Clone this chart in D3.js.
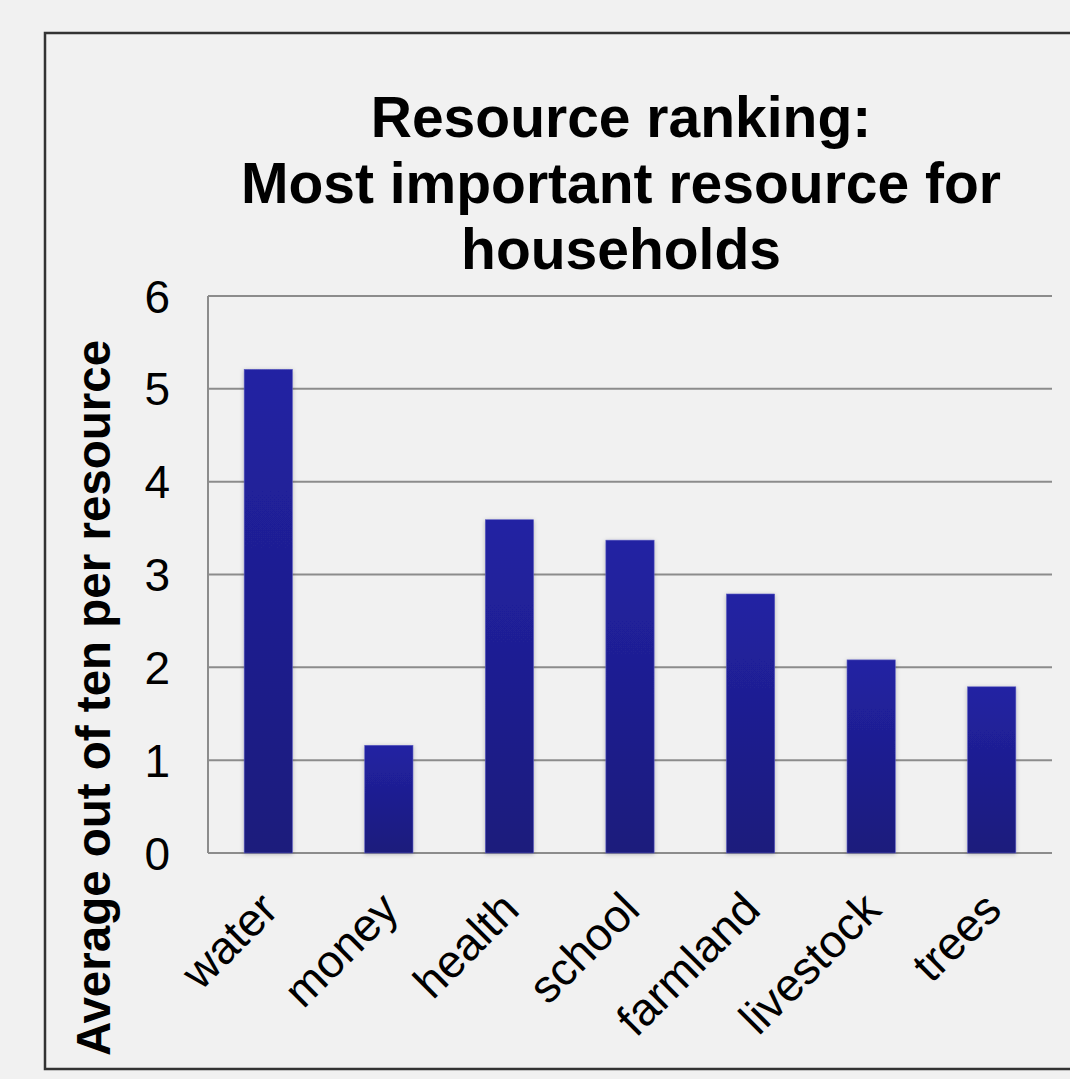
<!DOCTYPE html>
<html>
<head>
<meta charset="utf-8">
<script src="https://cdn.jsdelivr.net/npm/d3@7"></script>
<style>
	body { margin: 0; background: #f1f1f1; }
	svg { display: block; font-family: "Liberation Sans", Arial, sans-serif; }
</style>
</head>
<body>
<svg id="chart" width="1070" height="1079"></svg>
<script>
// data
let resources = ["water", "money", "health", "school", "farmland", "livestock", "trees"];
let averages = [5.21, 1.16, 3.59, 3.37, 2.79, 2.08, 1.79];
let yTicks = [0, 1, 2, 3, 4, 5, 6];
let titleLines = ["Resource ranking:", "Most important resource for", "households"];
let yTitle = "Average out of ten per resource";

let svg = d3.select("#chart");

// outer frame
svg.append("rect")
	.attr("x", 45).attr("y", 33)
	.attr("width", 1100).attr("height", 1036)
	.attr("fill", "#f1f1f1")
	.attr("stroke", "#333")
	.attr("stroke-width", 2.5);

let plotLeft = 208, plotRight = 1052, plotTop = 296, plotBottom = 853;

let xScale = d3.scaleBand()
	.domain(resources)
	.range([plotLeft, plotRight])
	.paddingInner(0.6)
	.paddingOuter(0.3);

let yScale = d3.scaleLinear()
	.domain([0, 6])
	.range([plotBottom, plotTop]);

// gradient for the bars
let defs = svg.append("defs");
let grad = defs.append("linearGradient")
	.attr("id", "barGrad")
	.attr("x1", 0).attr("y1", 0).attr("x2", 0).attr("y2", 1);
grad.append("stop").attr("offset", "0%").attr("stop-color", "#2222a3");
grad.append("stop").attr("offset", "100%").attr("stop-color", "#1a1a7c");

let shadow = defs.append("filter").attr("id", "shadow")
	.attr("x", "-20%").attr("y", "-5%").attr("width", "140%").attr("height", "110%");
shadow.append("feDropShadow")
	.attr("dx", 0).attr("dy", 1).attr("stdDeviation", 2)
	.attr("flood-color", "#000").attr("flood-opacity", 0.25);

// gridlines
svg.append("g")
	.selectAll("line")
	.data(yTicks)
	.join("line")
	.attr("x1", plotLeft).attr("x2", plotRight)
	.attr("y1", d => yScale(d)).attr("y2", d => yScale(d))
	.attr("stroke", "#8c8c8c")
	.attr("stroke-width", 2);

// left axis line
svg.append("line")
	.attr("x1", plotLeft).attr("x2", plotLeft)
	.attr("y1", plotTop).attr("y2", plotBottom)
	.attr("stroke", "#8c8c8c")
	.attr("stroke-width", 2);

// y tick labels
svg.append("g")
	.selectAll("text")
	.data(yTicks)
	.join("text")
	.attr("x", 170)
	.attr("y", d => yScale(d))
	.attr("dy", "0.36em")
	.attr("text-anchor", "end")
	.attr("font-size", 46)
	.attr("fill", "#000")
	.text(d => d);

// bars
svg.append("g")
	.selectAll("rect")
	.data(averages)
	.join("rect")
	.attr("x", (d, i) => xScale(resources[i]))
	.attr("y", d => yScale(d))
	.attr("width", xScale.bandwidth())
	.attr("height", d => plotBottom - yScale(d))
	.attr("fill", "url(#barGrad)")
	.attr("stroke", "#5a5ac0")
	.attr("stroke-width", 0.6)
	.attr("filter", "url(#shadow)");

// x labels, rotated
svg.append("g")
	.selectAll("text")
	.data(resources)
	.join("text")
	.attr("transform", d => "translate(" + (xScale(d) + xScale.bandwidth() / 2 + 12) + "," + 912 + ") rotate(-45)")
	.attr("text-anchor", "end")
	.attr("font-size", 46)
	.attr("fill", "#000")
	.text(d => d);

// title
svg.append("g")
	.selectAll("text")
	.data(titleLines)
	.join("text")
	.attr("x", 621)
	.attr("y", (d, i) => 137 + i * 66)
	.attr("text-anchor", "middle")
	.attr("font-size", 57)
	.attr("font-weight", "bold")
	.attr("fill", "#000")
	.text(d => d);

// y axis title
svg.append("text")
	.attr("transform", "translate(110,698) rotate(-90)")
	.attr("text-anchor", "middle")
	.attr("font-size", 47.5)
	.attr("font-weight", "bold")
	.attr("fill", "#000")
	.text(yTitle);
</script>
</body>
</html>
